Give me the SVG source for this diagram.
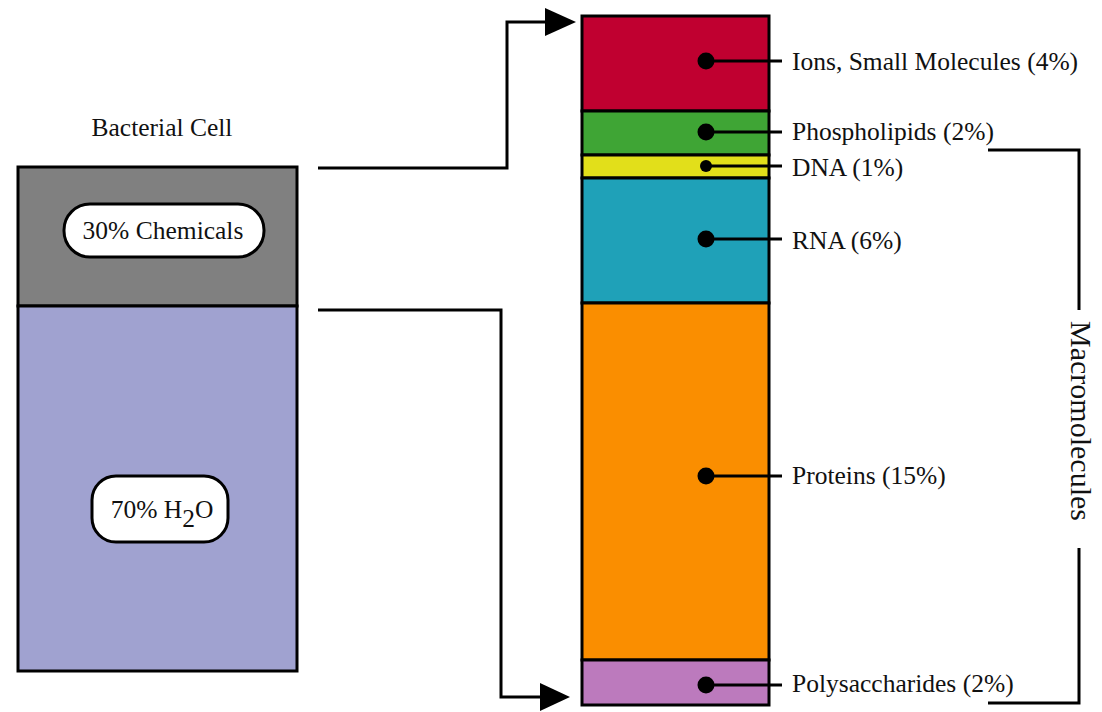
<svg xmlns="http://www.w3.org/2000/svg" width="1102" height="712" viewBox="0 0 1102 712">
<defs>
<style>
.t{font-family:"Liberation Serif","Times New Roman",serif;fill:#111;font-size:25.5px}
.seg{stroke:#000;stroke-width:3}
.ln{fill:none;stroke:#000;stroke-width:3}
.pill{fill:#fff;stroke:#000;stroke-width:3}
</style>
</defs>
<rect width="1102" height="712" fill="#fff"/>

<g id="cell">
<text class="t" x="162" y="136" text-anchor="middle">Bacterial Cell</text>
<rect class="seg" x="18" y="167" width="279" height="139" fill="#808080"/>
<rect class="seg" x="18" y="306" width="279" height="365" fill="#A0A2D0"/>
</g>
<g id="chem">
<rect class="pill" x="64" y="204" width="200" height="53" rx="26"/>
<text class="t" x="163" y="239" text-anchor="middle">30% Chemicals</text>
</g>
<g id="water">
<rect class="pill" x="92" y="476" width="136" height="66" rx="24"/>
<text class="t" x="162" y="518" text-anchor="middle">70% H<tspan dy="9">2</tspan><tspan dy="-9">O</tspan></text>
</g>

<g id="bar">
<rect class="seg" x="582" y="16" width="187" height="95" fill="#C00030"/>
<rect class="seg" x="582" y="111" width="187" height="44" fill="#3FA535"/>
<rect class="seg" x="582" y="155" width="187" height="23" fill="#E2DF1A"/>
<rect class="seg" x="582" y="178" width="187" height="125" fill="#1FA1B8"/>
<rect class="seg" x="582" y="303" width="187" height="357" fill="#FA8E00"/>
<rect class="seg" x="582" y="660" width="187" height="45" fill="#BC7ABD"/>
</g>

<g id="labels">
<g id="ions"><circle cx="706" cy="61" r="8.5"/><line class="ln" x1="706" y1="61" x2="782" y2="61"/><text class="t" x="792" y="70">Ions, Small Molecules (4%)</text></g>
<g id="phos"><circle cx="706" cy="132" r="8.5"/><line class="ln" x1="706" y1="132" x2="782" y2="132"/><text class="t" x="792" y="140">Phospholipids (2%)</text></g>
<g id="dna"><circle cx="706" cy="166" r="6"/><line class="ln" x1="706" y1="166" x2="782" y2="166"/><text class="t" x="792" y="176">DNA (1%)</text></g>
<g id="rna"><circle cx="706" cy="239" r="8.5"/><line class="ln" x1="706" y1="239" x2="782" y2="239"/><text class="t" x="792" y="249">RNA (6%)</text></g>
<g id="prot"><circle cx="706" cy="476" r="8.5"/><line class="ln" x1="706" y1="476" x2="782" y2="476"/><text class="t" x="792" y="484">Proteins (15%)</text></g>
<g id="poly"><circle cx="706" cy="685" r="8.5"/><line class="ln" x1="706" y1="685" x2="782" y2="685"/><text class="t" x="792" y="692">Polysaccharides (2%)</text></g>
</g>

<g id="macro">
<text class="t" style="font-size:30px" text-anchor="middle" transform="translate(1071 421) rotate(90)">Macromolecules</text>
</g>

<g id="connectors">
<path class="ln" d="M318,168 H507 V22 H548"/>
<path d="M545,8 L576,22 L545,36 Z" fill="#000"/>
<path class="ln" d="M318,310 H501 V697 H545"/>
<path d="M540,683 L570,697 L540,711 Z" fill="#000"/>
<path class="ln" d="M988,150 H1079 V310"/>
<path class="ln" d="M1079,548 V703 H988"/>
</g>
</svg>
